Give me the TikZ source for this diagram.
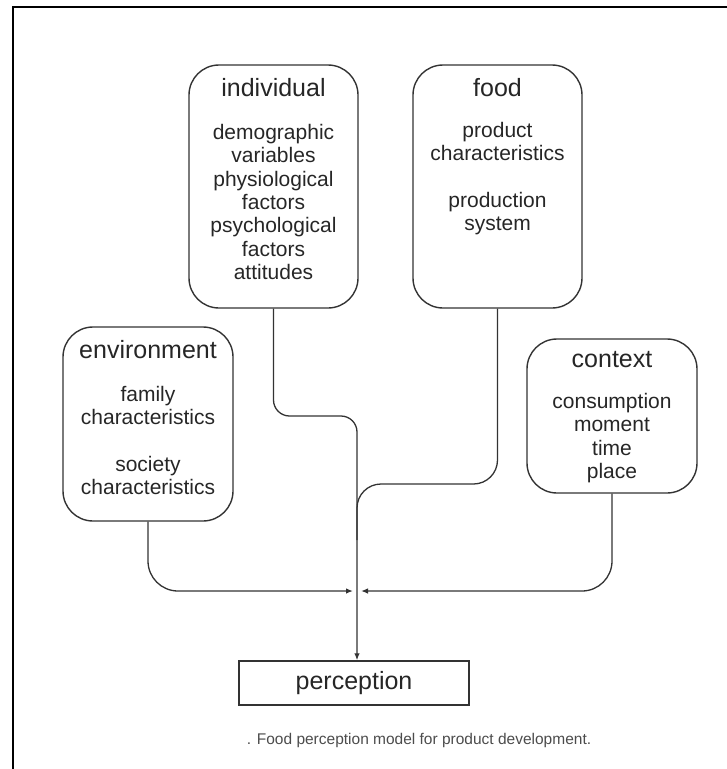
\documentclass[tikz,border=0pt]{standalone}
\usepackage{fontspec}
\setmainfont{Liberation Sans}
\usetikzlibrary{arrows.meta}
\begin{document}
\begin{tikzpicture}[x=1pt,y=-1pt,
  factorbox/.style={draw=black!80, line width=1.4pt, rounded corners=30pt, inner sep=0pt},
  resultbox/.style={draw=black!80, line width=1.4pt, inner sep=0pt},
  heading/.style={text=black!85, font=\fontsize{25}{28}\selectfont},
  items/.style={text=black!85, font=\fontsize{21}{23.3}\selectfont, align=center},
  link/.style={draw=black!80, line width=1.3pt},
  tip/.style={-{Latex[length=7pt,width=5.5pt]}}
]
\useasboundingbox (0,0) rectangle (727,769);
% page frame (left and top edges)
\draw[line width=2.5pt] (13,769) -- (13,7) -- (727,7);

% factor boxes
\node[factorbox, minimum width=169pt, minimum height=243pt] (ind) at (273.5,186.5) {};
\node[factorbox, minimum width=169pt, minimum height=243pt] (food) at (497.5,186.5) {};
\node[factorbox, minimum width=170pt, minimum height=194pt] (env) at (148,424) {};
\node[factorbox, minimum width=170pt, minimum height=154pt] (ctx) at (612,416) {};
\node[resultbox, minimum width=230pt, minimum height=44pt] (perc) at (354,683) {};

% box contents
\node[heading] (indh) at (273.5,88) {individual};
\node[items] (indi) at (273.5,202) {demographic\\variables\\physiological\\factors\\psychological\\factors\\attitudes};
\node[heading] (foodh) at (497.5,88) {food};
\node[items] (foodi) at (497.5,178.5) {product\\characteristics\\[23pt]production\\system};
\node[heading] (envh) at (148,350) {environment};
\node[items] (envi) at (148,440.5) {family\\characteristics\\[23pt]society\\characteristics};
\node[heading] (ctxh) at (612,360) {context};
\node[items] (ctxi) at (612,438) {consumption\\moment\\time\\place};
\node[heading] (perct) at (354,683) {perception};

% caption
\node[text=black!70, font=\fontsize{15.5}{18}\selectfont] (cap) at (419,740) {. Food perception model for product development.};

% connectors
\coordinate (bend) at (357,416);
\coordinate (fjoin) at (357,484);
\coordinate (fmerge) at (357,540);
\coordinate (join) at (357,591);
\draw[link, rounded corners=16pt, tip] (ind.south) |- (bend) -- (perc.north -| bend);
\draw[link, rounded corners=24pt] (food.south) |- (fjoin) -- (fmerge);
\draw[link, rounded corners=30pt, tip] (env.south) |- ([xshift=-4pt]join);
\draw[link, rounded corners=30pt, tip] (ctx.south) |- ([xshift=4pt]join);
\end{tikzpicture}
\end{document}
